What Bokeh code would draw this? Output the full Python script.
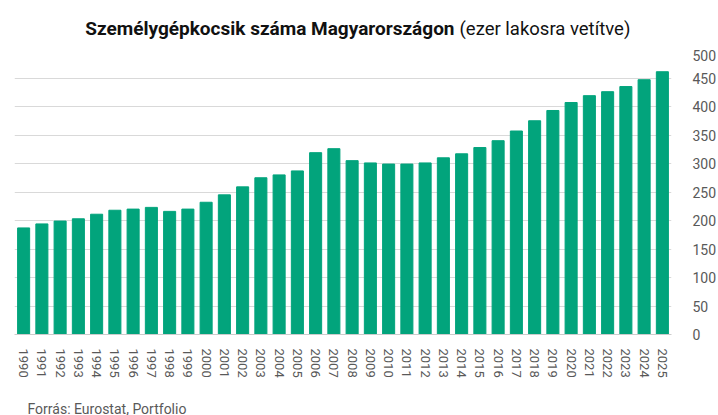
from bokeh.plotting import figure
from bokeh.models import Range1d, FixedTicker
from bokeh.layouts import column
from bokeh.core.properties import value
from bokeh.embed import file_html
from bokeh.resources import INLINE

years = [str(y) for y in range(1990, 2026)]
values = [187, 194, 199, 203, 211, 218, 220, 223, 216, 220,
          232, 245, 259, 275, 280, 287, 319, 326, 305, 301,
          299, 299, 301, 310, 317, 328, 340, 357, 375, 393,
          407, 419, 426, 435, 447, 461]
y_ticks = [0, 50, 100, 150, 200, 250, 300, 350, 400, 450, 500]
title_bold = "Személygépkocsik száma Magyarországon"
title_normal = "(ezer lakosra vetítve)"
source_text = "Forrás: Eurostat, Portfolio"

FL, FR = 14, 671          # frame left/right in page pixels
FW = FR - FL


def strip(h):
    f = figure(frame_width=FW, frame_height=h, x_range=Range1d(FL, FR), y_range=Range1d(0, h),
               x_axis_type=None, y_axis_type=None,
               output_backend="svg", toolbar_location=None,
               min_border_left=FL, min_border_right=718 - FR,
               min_border_top=0, min_border_bottom=0)
    f.grid.visible = False
    f.outline_line_color = None
    f.background_fill_color = "white"
    f.border_fill_color = "white"
    return f


# title strip (page y 0..49)
top = strip(49)
top.text(x=[454], y=[49 - 28], text=[title_bold], text_align="right",
         text_baseline="alphabetic", text_font=value("Roboto"),
         text_font_style="bold", text_font_size="19px", text_color="#111111")
top.text(x=[459], y=[49 - 28], text=[title_normal], text_align="left",
         text_baseline="alphabetic", text_font=value("Roboto"),
         text_font_size="18.5px", text_color="#111111")

# main chart (page y 49..385)
p = figure(x_range=years, y_range=Range1d(0, 500), frame_width=FW, frame_height=285,
           output_backend="svg", toolbar_location=None, y_axis_location="right",
           min_border_left=FL, min_border_right=718 - FR, min_border_top=0, min_border_bottom=51)
p.outline_line_color = None
p.background_fill_color = "white"
p.border_fill_color = "white"

p.vbar(x=years, top=values, width=0.66, color="#02A47C")

p.xgrid.grid_line_color = None
p.ygrid.grid_line_color = "#d9d9d9"
p.ygrid.grid_line_width = 1

p.yaxis.ticker = FixedTicker(ticks=y_ticks)
p.yaxis.axis_line_color = None
p.yaxis.major_tick_line_color = None
p.yaxis.minor_tick_line_color = None
p.yaxis.major_label_standoff = 15
p.yaxis.major_label_text_font = "Roboto"
p.yaxis.major_label_text_font_size = "14px"
p.yaxis.major_label_text_color = "#595959"

p.xaxis.axis_line_color = "#cccccc"
p.xaxis.major_tick_line_color = None
p.xaxis.minor_tick_line_color = None
p.xaxis.major_label_orientation = "vertical"
p.xaxis.major_label_standoff = 8
p.xaxis.major_label_text_font = "Roboto"
p.xaxis.major_label_text_font_size = "13px"
p.xaxis.major_label_text_color = "#595959"

# source strip (page y 385..415)
bot = strip(30)
bot.text(x=[27], y=[30 - 23], text=[source_text], text_align="left",
         text_baseline="alphabetic", text_font=value("Roboto"),
         text_font_size="14px", text_color="#595959")

layout = column(top, p, bot, spacing=0)
open("out.html", "w").write(file_html(layout, INLINE))
